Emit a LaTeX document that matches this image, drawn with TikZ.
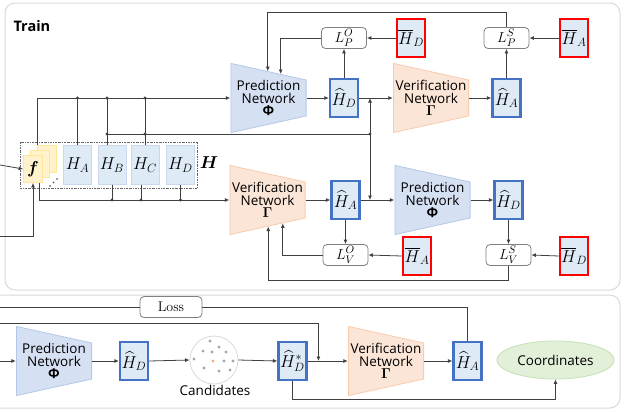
\documentclass[tikz,border=0pt]{standalone}
\usepackage{amsmath}
\usepackage{amssymb}
\usepackage{bm}
\usepackage[no-math]{fontspec}
\setsansfont{Open Sans}
\usetikzlibrary{arrows.meta,calc,shapes.geometric}

\definecolor{linegray}{HTML}{404040}
\definecolor{panelgray}{HTML}{D9D9D9}
\definecolor{boxfill}{HTML}{DEEBF7}
\definecolor{featedge}{HTML}{C9D8EE}
\definecolor{hatblue}{HTML}{4472C4}
\definecolor{barred}{HTML}{FF0000}
\definecolor{predfill}{HTML}{D6E0F3}
\definecolor{prededge}{HTML}{B4C7E7}
\definecolor{verifill}{HTML}{FBE5D6}
\definecolor{veriedge}{HTML}{F8CBAD}
\definecolor{ffill}{HTML}{FFF2CC}
\definecolor{fedge}{HTML}{FFE699}
\definecolor{coordfill}{HTML}{E2F0D9}
\definecolor{coordedge}{HTML}{C5E0B4}
\definecolor{candgray}{HTML}{A6A6A6}
\definecolor{candorange}{HTML}{F4B183}

\tikzset{
  panel/.style={draw=panelgray, line width=1pt, rounded corners=10pt},
  wire/.style={draw=linegray, line width=0.8pt},
  arrow/.style={wire, -{Latex[length=4.5pt,width=4pt]}},
  junction/.style={circle, fill=linegray, inner sep=0pt, minimum size=3.4pt},
  network/.style={minimum width=76pt, minimum height=70pt, inner sep=0pt, align=center,
    font=\sffamily\fontsize{13.5}{12.5}\selectfont},
  prednet/.style={network, path picture={
    \draw[draw=prededge, fill=predfill, line width=0.8pt]
      ([shift={(0.4pt,-0.4pt)}]path picture bounding box.north west)
      -- ([shift={(-0.4pt,-17pt)}]path picture bounding box.north east)
      -- ([shift={(-0.4pt,17pt)}]path picture bounding box.south east)
      -- ([shift={(0.4pt,0.4pt)}]path picture bounding box.south west) -- cycle;}},
  verinet/.style={network, path picture={
    \draw[draw=veriedge, fill=verifill, line width=0.8pt]
      ([shift={(0.4pt,-0.4pt)}]path picture bounding box.north west)
      -- ([shift={(-0.4pt,-17pt)}]path picture bounding box.north east)
      -- ([shift={(-0.4pt,17pt)}]path picture bounding box.south east)
      -- ([shift={(0.4pt,0.4pt)}]path picture bounding box.south west) -- cycle;}},
  hatbox/.style={draw=hatblue, line width=2.2pt, fill=boxfill, minimum width=28pt,
    minimum height=38.5pt, inner sep=0pt, font=\fontsize{16.5}{16.5}\selectfont},
  barbox/.style={hatbox, draw=barred},
  featbox/.style={draw=featedge, fill=boxfill, line width=0.8pt, minimum width=28pt,
    minimum height=39pt, inner sep=0pt, font=\fontsize{16.5}{16.5}\selectfont},
  lossbox/.style={draw=gray, fill=white, line width=0.8pt, rounded corners=4pt,
    minimum width=45pt, minimum height=21pt, inner sep=0pt, font=\fontsize{15}{15}\selectfont},
  fcard/.style={draw=fedge, fill=ffill, line width=0.8pt, minimum width=19pt,
    minimum height=27pt, inner sep=0pt, font=\fontsize{16.5}{16.5}\selectfont},
}

\begin{document}
\begin{tikzpicture}[x=1pt, y=-1pt, font=\sffamily]
    \useasboundingbox (0,0) rectangle (624,413);

    % Panels
    \draw[panel] (5,3) rectangle (620,290);
    \draw[panel] (-15,295) rectangle (620,408);
    \node[anchor=west, font=\sffamily\bfseries\fontsize{14.5}{14.5}\selectfont] (train) at (10,26) {Train};

    % Feature stack f and the H blocks
    \node[fcard] (f3) at (47,159) {};
    \node[fcard] (f2) at (40,164) {};
    \node[fcard] (f1) at (33,169) {$\bm{f}$};
    \foreach \d in {0,3.5,7}
        \fill[linegray] (50+\d,186-\d) circle (0.8pt);
    \node[featbox] (ha) at (77.5,165) {$H_A$};
    \node[featbox] (hb) at (112,165) {$H_B$};
    \node[featbox] (hc) at (145,165) {$H_C$};
    \node[featbox] (hd) at (180.5,165) {$H_D$};
    \draw[linegray!80, line width=0.7pt, dash pattern=on 2pt off 1pt on 0.6pt off 1pt] (20,142) rectangle (197,188);
    \node[font=\fontsize{16.5}{16.5}\selectfont] (hset) at (209,163) {$\bm{H}$};

    % Upper branch: prediction then verification
    \node[prednet] (pn1) at (268.5,98) {Prediction\\Network\\{\bfseries Φ}};
    \node[hatbox] (hd1) at (344,98) {$\widehat{H}_D$};
    \node[verinet] (vn1) at (431,98) {Verification\\Network\\$\mathbf{\Gamma}$};
    \node[hatbox] (ha1) at (506.5,98) {$\widehat{H}_A$};
    \node[lossbox] (lpo) at (344,38) {$L_P^{O}$};
    \node[barbox] (bd1) at (411,38) {$\overline{H}_D$};
    \node[lossbox] (lps) at (506.5,38) {$L_P^{S}$};
    \node[barbox] (ba1) at (574,38) {$\overline{H}_A$};

    % Lower branch: verification then prediction
    \node[verinet] (vn2) at (267.5,200) {Verification\\Network\\$\mathbf{\Gamma}$};
    \node[hatbox] (ha2) at (345.5,200) {$\widehat{H}_A$};
    \node[prednet] (pn2) at (432.5,200) {Prediction\\Network\\{\bfseries Φ}};
    \node[hatbox] (hd2) at (508.5,200) {$\widehat{H}_D$};
    \node[lossbox] (lvo) at (345.5,255) {$L_V^{O}$};
    \node[barbox] (ba2) at (417,256) {$\overline{H}_A$};
    \node[lossbox] (lvs) at (508.5,255) {$L_V^{S}$};
    \node[barbox] (bd2) at (574,256) {$\overline{H}_D$};

    % Inputs coming in from the left
    \coordinate (fin) at (0,165);
    \coordinate (fin2) at (0,236);
    \draw[arrow] (fin) -- (f1.west);
    \draw[arrow] (fin2) -| (f1.south);

    % f, H_A, H_B, H_C into the upper prediction network
    \coordinate (hbt) at ([xshift=-5pt]hb.north);
    \coordinate (hcb) at ([xshift=-4pt]hc.south);
    \coordinate (split) at (370,134);
    \draw[arrow] (f3.north west) |- (pn1.west);
    \draw[wire] (ha.north) -- (ha.north |- pn1.west) node[junction] {};
    \draw[wire] (hbt) -- (hbt |- pn1.west) node[junction] {};
    \draw[wire] (hc.north) -- (hc.north |- pn1.west) node[junction] {};

    % H_B, H_C to the second networks
    \draw[wire] (hbt |- split) node[junction] {} -- (split) node[junction] {};
    \node[junction] at (hc.north |- split) {};
    \draw[arrow] (split) -- (split |- hd1.east);
    \draw[arrow] (split) -- (split |- ha2.east);

    % f, H_B, H_C, H_D into the lower verification network
    \draw[arrow] ([xshift=6pt]f1.south) |- (vn2.west);
    \draw[wire] (hb.south) -- (hb.south |- vn2.west) node[junction] {};
    \draw[wire] (hcb) -- (hcb |- vn2.west) node[junction] {};
    \draw[wire] (hd.south) -- (hd.south |- vn2.west) node[junction] {};

    % Upper chain and its losses
    \draw[arrow] (pn1.east) -- (hd1.west);
    \draw[arrow] (hd1.east) -- (vn1.west);
    \draw[arrow] (vn1.east) -- (ha1.west);
    \draw[arrow] (hd1.north) -- (lpo.south);
    \draw[arrow] (ha1.north) -- (lps.south);
    \draw[arrow] (bd1.west) -- (lpo.east);
    \draw[arrow] (ba1.west) -- (lps.east);
    \coordinate (pn1tr) at ([yshift=-17pt]pn1.north east);
    \draw[arrow] (lpo.west) -| ($(pn1.north west)!0.66!(pn1tr)$);
    \draw[arrow] (lps.north) -- ++(0,-15) -| ($(pn1.north west)!0.49!(pn1tr)$);

    % Lower chain and its losses
    \draw[arrow] (vn2.east) -- (ha2.west);
    \draw[arrow] (ha2.east) -- (pn2.west);
    \draw[arrow] (pn2.east) -- (hd2.west);
    \draw[arrow] (ha2.south) -- (lvo.north);
    \draw[arrow] (hd2.south) -- (lvs.north);
    \draw[arrow] (ba2.west) -- (lvo.east);
    \draw[arrow] (bd2.west) -- (lvs.east);
    \coordinate (vn2br) at ([yshift=17pt]vn2.south east);
    \draw[arrow] (lvo.west) -| ($(vn2.south west)!0.70!(vn2br)$);
    \draw[arrow] (lvs.south) -- ++(0,14) -| ($(vn2.south west)!0.51!(vn2br)$);

    % Inference
    \node[lossbox, minimum width=62pt, font=\rmfamily\fontsize{14}{14}\selectfont] (loss) at (171,307) {Loss};
    \node[prednet] (pn3) at (54,361) {Prediction\\Network\\{\bfseries Φ}};
    \node[hatbox] (hd3) at (134,361) {$\widehat{H}_D$};
    \node[circle, draw=panelgray, fill=white, line width=0.8pt, minimum size=48pt, inner sep=0pt] (cand) at (214,360) {};
    \foreach \dx/\dy in {-4/-19, -11/-9, -2/-8, 5/-13, 12/-8, -20/-1, 10/1, 19/1, -10/8, 5/11, 16/10}
        \fill[candgray] ($(cand)+(\dx,\dy)$) circle (1.7pt);
    \fill[candorange] ($(cand)+(-1,1)$) circle (1.7pt);
    \node[font=\sffamily\fontsize{13.5}{13.5}\selectfont] (candtext) at (215,390) {Candidates};
    \node[hatbox] (hds) at (292.5,361) {$\widehat{H}_D^{*}$};
    \node[verinet] (vn3) at (386,361) {Verification\\Network\\$\mathbf{\Gamma}$};
    \node[hatbox] (ha3) at (467.5,361) {$\widehat{H}_A$};
    \node[ellipse, draw=coordedge, fill=coordfill, line width=0.8pt, minimum width=97pt, minimum height=38pt,
        font=\sffamily\fontsize{13.5}{13.5}\selectfont] (coord) at (555.5,360) {Coordinates};

    \coordinate (lossin) at (0,307);
    \coordinate (refin) at (0,323);
    \coordinate (predin) at (0,361);
    \draw[wire] (lossin) -- (loss.west);
    \draw[wire] (loss.east) -| (ha3.north);
    \draw[arrow] (refin) -| ($(hds.east)!0.27!(vn3.west)$);
    \draw[arrow] (predin) -- (pn3.west);
    \draw[arrow] (pn3.east) -- (hd3.west);
    \draw[arrow] (hd3.east) -- (cand.west);
    \draw[arrow] (cand.east) -- (hds.west);
    \draw[arrow] (hds.east) -- (vn3.west);
    \draw[arrow] (vn3.east) -- (ha3.west);
    \draw[arrow] (hds.south) -- ++(0,18) -| (coord.south);
\end{tikzpicture}
\end{document}
